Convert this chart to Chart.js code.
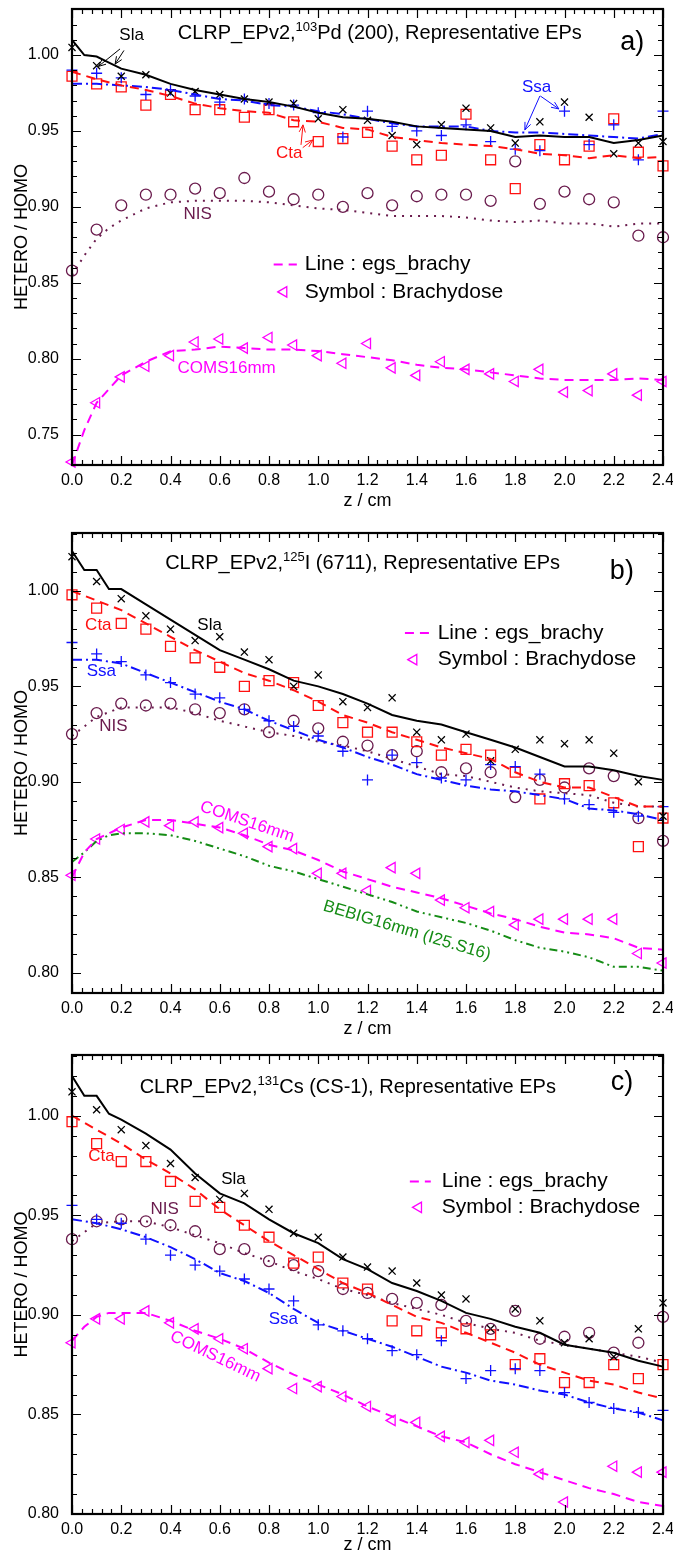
<!DOCTYPE html>
<html>
<head>
<meta charset="utf-8">
<script src="https://cdn.jsdelivr.net/npm/chart.js@4.4.1/dist/chart.umd.min.js"></script>
<style>
  body { margin: 0; background: #fff; }
  #wrap { position: relative; width: 673px; height: 1556px; }
  canvas { position: absolute; left: 0; }
</style>
</head>
<body>
<div id="wrap">
  <canvas id="chartA" width="673" height="512" style="top:0px"></canvas>
  <canvas id="chartB" width="673" height="528" style="top:512px"></canvas>
  <canvas id="chartC" width="673" height="516" style="top:1040px"></canvas>
</div>
<script>
// depth along the eye axis (cm)
const zPts = [0.0, 0.1, 0.2, 0.3, 0.4, 0.5, 0.6, 0.7, 0.8, 0.9, 1.0, 1.1, 1.2, 1.3, 1.4, 1.5, 1.6, 1.7, 1.8, 1.9, 2.0, 2.1, 2.2, 2.3, 2.4];
const zFine = [0.0, 0.05, 0.1, 0.15, 0.2, 0.3, 0.4, 0.5, 0.6, 0.7, 0.8, 0.9, 1.0, 1.1, 1.2, 1.3, 1.4, 1.5, 1.6, 1.7, 1.8, 1.9, 2.0, 2.1, 2.2, 2.3, 2.4];
const xTicks = [0.0, 0.2, 0.4, 0.6, 0.8, 1.0, 1.2, 1.4, 1.6, 1.8, 2.0, 2.2, 2.4];
const yTicksA = [0.75, 0.80, 0.85, 0.90, 0.95, 1.00];
const yTicksB = [0.80, 0.85, 0.90, 0.95, 1.00];
const yTicksC = [0.80, 0.85, 0.90, 0.95, 1.00];

// a) 103Pd (200)
const aSlaLine = [1.010, 1.000, 0.999, 0.995, 0.991, 0.987, 0.981, 0.977, 0.974, 0.971, 0.969, 0.966, 0.962, 0.959, 0.958, 0.956, 0.953, 0.952, 0.951, 0.950, 0.946, 0.947, 0.946, 0.946, 0.942, 0.944, 0.947];
const aSlaPts = [1.005, 0.993, 0.986, 0.987, 0.975, 0.976, 0.974, 0.971, 0.969, 0.968, 0.958, 0.964, 0.957, 0.947, 0.941, 0.954, 0.965, 0.952, 0.942, 0.956, 0.969, 0.959, 0.935, 0.942, 0.943];
const aCtaLine = [0.989, 0.984, 0.980, 0.977, 0.973, 0.968, 0.965, 0.963, 0.962, 0.957, 0.956, 0.952, 0.951, 0.946, 0.944, 0.942, 0.941, 0.940, 0.938, 0.935, 0.934, 0.932, 0.934, 0.932, 0.933];
const aCtaPts = [0.986, 0.981, 0.979, 0.967, 0.974, 0.964, 0.964, 0.959, 0.964, 0.956, 0.943, 0.945, 0.949, 0.940, 0.931, 0.934, 0.961, 0.931, 0.912, 0.941, 0.931, 0.940, 0.958, 0.936, 0.927];
const aSsaLine = [0.981, 0.981, 0.980, 0.979, 0.977, 0.974, 0.971, 0.970, 0.967, 0.966, 0.963, 0.961, 0.958, 0.955, 0.953, 0.953, 0.953, 0.950, 0.949, 0.949, 0.948, 0.947, 0.946, 0.945, 0.948];
const aSsaPts = [0.990, 0.988, 0.985, 0.974, 0.977, 0.973, 0.969, 0.971, 0.968, 0.967, 0.962, 0.946, 0.963, 0.953, 0.950, 0.947, 0.954, 0.943, 0.938, 0.937, 0.963, 0.941, 0.954, 0.931, 0.963];
const aNisLine = [0.855, 0.868, 0.879, 0.886, 0.891, 0.899, 0.903, 0.904, 0.904, 0.904, 0.903, 0.901, 0.899, 0.898, 0.896, 0.894, 0.894, 0.894, 0.893, 0.891, 0.890, 0.891, 0.889, 0.889, 0.887, 0.889, 0.889];
const aNisPts = [0.858, 0.885, 0.901, 0.908, 0.908, 0.912, 0.909, 0.919, 0.910, 0.905, 0.908, 0.900, 0.909, 0.901, 0.907, 0.908, 0.908, 0.904, 0.930, 0.902, 0.910, 0.905, 0.903, 0.881, 0.880];
const aComsLine = [0.730, 0.753, 0.771, 0.780, 0.789, 0.798, 0.805, 0.806, 0.808, 0.807, 0.806, 0.806, 0.805, 0.803, 0.801, 0.799, 0.796, 0.794, 0.793, 0.791, 0.789, 0.787, 0.786, 0.786, 0.786, 0.787, 0.786];
const aComsPts = [0.732, 0.771, 0.788, 0.795, 0.802, 0.811, 0.813, 0.807, 0.814, 0.809, 0.802, 0.797, 0.810, 0.794, 0.789, 0.798, 0.793, 0.790, 0.785, 0.793, 0.778, 0.779, 0.790, 0.776, 0.785];

// b) 125I (6711)
const bSlaLine = [1.021, 1.011, 1.011, 1.001, 1.001, 0.993, 0.985, 0.977, 0.969, 0.964, 0.959, 0.953, 0.950, 0.946, 0.941, 0.935, 0.932, 0.930, 0.926, 0.922, 0.918, 0.913, 0.908, 0.908, 0.906, 0.903, 0.901];
const bSlaPts = [1.018, 1.005, 0.996, 0.987, 0.980, 0.974, 0.976, 0.968, 0.964, 0.950, 0.956, 0.942, 0.939, 0.944, 0.926, 0.922, 0.925, 0.911, 0.917, 0.922, 0.920, 0.922, 0.915, 0.900, 0.882];
const bCtaLine = [1.000, 0.995, 0.990, 0.983, 0.976, 0.969, 0.963, 0.957, 0.953, 0.948, 0.942, 0.935, 0.931, 0.926, 0.922, 0.918, 0.915, 0.912, 0.905, 0.900, 0.897, 0.897, 0.892, 0.887, 0.887];
const bCtaPts = [0.998, 0.991, 0.983, 0.980, 0.971, 0.965, 0.960, 0.950, 0.953, 0.952, 0.940, 0.931, 0.926, 0.926, 0.921, 0.914, 0.917, 0.914, 0.905, 0.891, 0.899, 0.898, 0.889, 0.866, 0.881];
const bSsaLine = [0.964, 0.964, 0.962, 0.957, 0.952, 0.947, 0.942, 0.938, 0.932, 0.927, 0.922, 0.918, 0.913, 0.909, 0.904, 0.901, 0.898, 0.896, 0.895, 0.893, 0.891, 0.886, 0.885, 0.883, 0.880];
const bSsaPts = [0.973, 0.967, 0.963, 0.956, 0.952, 0.946, 0.944, 0.938, 0.932, 0.929, 0.924, 0.916, 0.901, 0.914, 0.910, 0.902, 0.901, 0.909, 0.908, 0.904, 0.891, 0.888, 0.884, 0.882, 0.887];
const bNisLine = [0.924, 0.934, 0.939, 0.939, 0.939, 0.936, 0.932, 0.929, 0.926, 0.924, 0.921, 0.919, 0.916, 0.912, 0.908, 0.904, 0.903, 0.900, 0.897, 0.895, 0.894, 0.893, 0.889, 0.887, 0.887];
const bNisPts = [0.925, 0.936, 0.941, 0.940, 0.941, 0.938, 0.936, 0.938, 0.926, 0.932, 0.928, 0.921, 0.919, 0.914, 0.916, 0.905, 0.907, 0.905, 0.892, 0.901, 0.897, 0.907, 0.903, 0.881, 0.869];
const bComsLine = [0.850, 0.863, 0.870, 0.873, 0.876, 0.880, 0.880, 0.878, 0.876, 0.872, 0.867, 0.864, 0.859, 0.853, 0.849, 0.845, 0.842, 0.839, 0.835, 0.831, 0.828, 0.824, 0.821, 0.820, 0.818, 0.813, 0.812];
const bComsPts = [0.851, 0.870, 0.875, 0.879, 0.877, 0.879, 0.876, 0.873, 0.866, 0.865, 0.852, 0.852, 0.843, 0.855, 0.852, 0.838, 0.834, 0.832, 0.825, 0.828, 0.828, 0.828, 0.828, 0.810, 0.805];
const bBebigLine = [0.858, 0.863, 0.869, 0.872, 0.873, 0.873, 0.872, 0.869, 0.865, 0.861, 0.856, 0.853, 0.849, 0.845, 0.841, 0.837, 0.832, 0.829, 0.826, 0.822, 0.817, 0.813, 0.811, 0.808, 0.803, 0.803, 0.801];

// c) 131Cs (CS-1)
const cSlaLine = [1.020, 1.010, 1.010, 1.001, 0.998, 0.991, 0.983, 0.971, 0.961, 0.956, 0.948, 0.941, 0.936, 0.928, 0.923, 0.916, 0.912, 0.907, 0.901, 0.898, 0.894, 0.891, 0.885, 0.883, 0.881, 0.877, 0.874];
const cSlaPts = [1.012, 1.003, 0.993, 0.985, 0.976, 0.969, 0.958, 0.961, 0.953, 0.941, 0.939, 0.929, 0.924, 0.922, 0.916, 0.910, 0.908, 0.893, 0.903, 0.897, 0.886, 0.888, 0.879, 0.893, 0.906];
const cCtaLine = [1.000, 0.993, 0.986, 0.978, 0.971, 0.963, 0.953, 0.945, 0.937, 0.930, 0.923, 0.916, 0.911, 0.905, 0.899, 0.896, 0.891, 0.886, 0.881, 0.875, 0.871, 0.867, 0.865, 0.861, 0.858];
const cCtaPts = [0.997, 0.986, 0.977, 0.977, 0.967, 0.957, 0.954, 0.945, 0.939, 0.926, 0.929, 0.916, 0.913, 0.897, 0.892, 0.891, 0.893, 0.890, 0.875, 0.878, 0.866, 0.866, 0.875, 0.868, 0.875];
const cSsaLine = [0.948, 0.946, 0.943, 0.939, 0.934, 0.928, 0.921, 0.917, 0.911, 0.903, 0.896, 0.892, 0.888, 0.884, 0.879, 0.874, 0.871, 0.867, 0.865, 0.862, 0.860, 0.856, 0.853, 0.851, 0.847];
const cSsaPts = [0.955, 0.948, 0.946, 0.938, 0.930, 0.925, 0.922, 0.918, 0.913, 0.907, 0.895, 0.892, 0.888, 0.882, 0.880, 0.887, 0.868, 0.872, 0.873, 0.872, 0.861, 0.856, 0.853, 0.851, 0.852];
const cNisLine = [0.937, 0.946, 0.947, 0.947, 0.944, 0.940, 0.936, 0.931, 0.927, 0.922, 0.918, 0.913, 0.910, 0.906, 0.903, 0.900, 0.896, 0.893, 0.891, 0.887, 0.885, 0.883, 0.881, 0.879, 0.876];
const cNisPts = [0.938, 0.947, 0.948, 0.947, 0.945, 0.942, 0.933, 0.933, 0.927, 0.925, 0.922, 0.913, 0.911, 0.908, 0.906, 0.905, 0.897, 0.893, 0.902, 0.888, 0.889, 0.891, 0.881, 0.886, 0.899];
const cComsLine = [0.887, 0.894, 0.899, 0.901, 0.901, 0.901, 0.897, 0.892, 0.888, 0.883, 0.876, 0.870, 0.865, 0.860, 0.854, 0.849, 0.844, 0.839, 0.836, 0.830, 0.825, 0.821, 0.817, 0.813, 0.810, 0.806, 0.804];
const cComsPts = [0.886, 0.898, 0.898, 0.902, 0.896, 0.893, 0.888, 0.883, 0.873, 0.863, 0.864, 0.859, 0.854, 0.847, 0.846, 0.839, 0.836, 0.837, 0.831, 0.820, 0.806, null, 0.824, 0.821, 0.821];

const FONT = '"Liberation Sans", Arial, Helvetica, sans-serif';
const BLACK = '#000000', RED = '#ff1010', BLUE = '#1010ff', PURPLE = '#6a1b4d', MAGENTA = '#ff00ff', GREEN = '#158c15';

function xy(xs, ys) {
    return xs.map((x, i) => ({ x: x, y: ys[i] }));
}

function curve(xs, ys, color, dash) {
    return {
        data: xy(xs, ys), showLine: true, borderColor: color, borderWidth: 2,
        borderDash: dash, pointRadius: 0, pointHoverRadius: 0, clip: false
    };
}

function marks(ys, color, style, r, rot) {
    return {
        data: xy(zPts, ys), showLine: false, pointStyle: style, pointRadius: r, pointHoverRadius: r,
        pointRotation: rot || 0, borderColor: color, pointBorderColor: color,
        backgroundColor: 'rgba(0,0,0,0)', pointBackgroundColor: 'rgba(0,0,0,0)',
        pointBorderWidth: 1.3, clip: false
    };
}

const DASH = [9, 6], DASHDOT = [10, 4, 2, 4], DOTS = [2, 6], DASHDOTDOT = [8, 4, 2, 4, 2, 4];

// frame, inward ticks, titles, curve labels, arrows and the key
const decorPlugin = {
    id: 'decor',
    afterDraw(chart, args, p) {
        const ctx = chart.ctx, a = chart.chartArea, xs = chart.scales.x, ys = chart.scales.y;
        const X = z => xs.getPixelForValue(z), Y = v => ys.getPixelForValue(v);
        ctx.save();

        ctx.strokeStyle = '#000';
        ctx.lineWidth = 1.2;
        ctx.beginPath();
        for (let i = 0; i <= 60; i++) {
            const px = Math.round(X(i * 0.04)) + 0.5, len = i % 5 ? 5 : 9;
            ctx.moveTo(px, a.bottom); ctx.lineTo(px, a.bottom - len);
            ctx.moveTo(px, a.top); ctx.lineTo(px, a.top + len);
        }
        for (let k = Math.ceil(ys.min * 100 - 1e-6); k <= Math.floor(ys.max * 100 + 1e-6); k++) {
            const py = Math.round(Y(k / 100)) + 0.5, len = k % 5 ? 5 : 9;
            ctx.moveTo(a.left, py); ctx.lineTo(a.left + len, py);
            ctx.moveTo(a.right, py); ctx.lineTo(a.right - len, py);
        }
        ctx.stroke();
        ctx.lineWidth = 2.2;
        ctx.strokeRect(a.left, a.top, a.right - a.left, a.bottom - a.top);

        // title with superscript mass number
        const big = '20px ' + FONT, small = '13px ' + FONT;
        ctx.fillStyle = '#000';
        ctx.textAlign = 'left';
        ctx.textBaseline = 'alphabetic';
        ctx.font = big;
        const w1 = ctx.measureText(p.title[0]).width, w3 = ctx.measureText(p.title[2]).width;
        ctx.font = small;
        const w2 = ctx.measureText(p.title[1]).width;
        let tx = X(p.titleAt[0]) - (w1 + w2 + w3) / 2;
        const ty = Y(p.titleAt[1]) + 7;
        ctx.font = big; ctx.fillText(p.title[0], tx, ty); tx += w1;
        ctx.font = small; ctx.fillText(p.title[1], tx, ty - 8); tx += w2;
        ctx.font = big; ctx.fillText(p.title[2], tx, ty);

        ctx.textAlign = 'center';
        ctx.textBaseline = 'middle';
        ctx.font = '27px ' + FONT;
        ctx.fillText(p.tag, X(p.tagAt[0]), Y(p.tagAt[1]));

        p.labels.forEach(l => {
            ctx.save();
            ctx.translate(X(l.at[0]), Y(l.at[1]));
            ctx.rotate((l.rot || 0) * Math.PI / 180);
            ctx.font = '17px ' + FONT;
            ctx.fillStyle = l.c;
            ctx.fillText(l.t, 0, 0);
            ctx.restore();
        });

        (p.arrows || []).forEach(r => {
            const x1 = X(r[0]), y1 = Y(r[1]), x2 = X(r[2]), y2 = Y(r[3]);
            const ang = Math.atan2(y2 - y1, x2 - x1);
            ctx.strokeStyle = r[4];
            ctx.lineWidth = 1;
            ctx.beginPath();
            ctx.moveTo(x1, y1); ctx.lineTo(x2, y2);
            [0.4, -0.4].forEach(d => {
                ctx.moveTo(x2, y2);
                ctx.lineTo(x2 - 8 * Math.cos(ang + d), y2 - 8 * Math.sin(ang + d));
            });
            ctx.stroke();
        });

        const L = p.legend;
        ctx.strokeStyle = MAGENTA;
        ctx.lineWidth = 2;
        ctx.setLineDash([9, 6]);
        ctx.beginPath();
        ctx.moveTo(X(L.line[0]), Y(L.line[2]));
        ctx.lineTo(X(L.line[1]), Y(L.line[2]));
        ctx.stroke();
        ctx.setLineDash([]);
        const tpx = X(L.tri[0]), tpy = Y(L.tri[1]);
        ctx.lineWidth = 1.3;
        ctx.beginPath();
        ctx.moveTo(tpx - 6, tpy);
        ctx.lineTo(tpx + 3, tpy - 5.2);
        ctx.lineTo(tpx + 3, tpy + 5.2);
        ctx.closePath();
        ctx.stroke();
        ctx.font = '21px ' + FONT;
        ctx.fillStyle = '#000';
        ctx.textAlign = 'left';
        ctx.fillText('Line : egs_brachy', X(L.text), Y(L.line[2]));
        ctx.fillText('Symbol : Brachydose', X(L.text), Y(L.tri[1]));
        ctx.restore();
    }
};

function makeChart(id, panel, yMin, yMax, yTicks, padTop, xH, datasets) {
    const ctx = document.getElementById(id).getContext('2d');
    return new Chart(ctx, {
        type: 'scatter',
        data: { datasets: datasets },
        options: {
            responsive: false,
            animation: false,
            devicePixelRatio: 1,
            events: [],
            layout: { padding: { top: padTop, right: 10, bottom: 0, left: 0 } },
            plugins: { legend: { display: false }, tooltip: { enabled: false }, decor: panel },
            scales: {
                x: {
                    type: 'linear', min: 0, max: 2.4,
                    grid: { display: false }, border: { display: false },
                    ticks: {
                        padding: -2, color: '#000', font: { family: FONT, size: 16 },
                        maxRotation: 0, autoSkip: false, callback: v => v.toFixed(1)
                    },
                    title: {
                        display: true, text: 'z / cm', color: '#000',
                        font: { family: FONT, size: 18 },
                        padding: { top: 0, bottom: 0 }
                    },
                    afterBuildTicks: s => { s.ticks = xTicks.map(v => ({ value: v })); },
                    afterFit: s => { s.height = xH; s.paddingLeft = 0; s.paddingRight = 0; }
                },
                y: {
                    type: 'linear', min: yMin, max: yMax,
                    grid: { display: false }, border: { display: false },
                    ticks: {
                        padding: 5, color: '#000', font: { family: FONT, size: 16 },
                        callback: v => v.toFixed(2)
                    },
                    title: {
                        display: true, text: 'HETERO / HOMO', color: '#000',
                        font: { family: FONT, size: 18 }, padding: { top: 11, bottom: 0 }
                    },
                    afterBuildTicks: s => { s.ticks = yTicks.map(v => ({ value: v })); },
                    afterFit: s => { s.width = 72; s.paddingTop = 0; s.paddingBottom = 0; }
                }
            }
        },
        plugins: [decorPlugin]
    });
}

document.addEventListener("DOMContentLoaded", () => {
    makeChart('chartA', {
        title: ['CLRP_EPv2,', '103', 'Pd (200), Representative EPs'], titleAt: [1.25, 1.015],
        tag: 'a)', tagAt: [2.275, 1.008],
        labels: [
            { t: 'Sla', c: BLACK, at: [0.242, 1.013] },
            { t: 'Ssa', c: BLUE, at: [1.887, 0.979] },
            { t: 'Cta', c: RED, at: [0.882, 0.935] },
            { t: 'NIS', c: PURPLE, at: [0.51, 0.895] },
            { t: 'COMS16mm', c: MAGENTA, at: [0.628, 0.794] }
        ],
        arrows: [
            [0.195, 1.004, 0.107, 0.9925, BLACK],
            [0.211, 1.003, 0.175, 0.994, BLACK],
            [1.902, 0.973, 1.977, 0.9645, BLUE],
            [1.900, 0.973, 1.839, 0.9507, BLUE],
            [0.930, 0.9408, 0.938, 0.954, RED],
            [0.937, 0.939, 0.978, 0.944, RED]
        ],
        legend: { line: [0.819, 0.913, 0.862], text: 0.945, tri: [0.86, 0.844] }
    }, 0.730, 1.0303, yTicksA, 9, 47, [
        curve(zFine, aSlaLine, BLACK, []),
        curve(zPts, aCtaLine, RED, DASH),
        curve(zPts, aSsaLine, BLUE, DASHDOT),
        curve(zFine, aNisLine, PURPLE, DOTS),
        curve(zFine, aComsLine, MAGENTA, DASH),
        marks(aSlaPts, BLACK, 'crossRot', 5),
        marks(aSsaPts, BLUE, 'cross', 5.5),
        marks(aCtaPts, RED, 'rect', 7),
        marks(aNisPts, PURPLE, 'circle', 5.5),
        marks(aComsPts, MAGENTA, 'triangle', 6, -90)
    ]);

    makeChart('chartB', {
        title: ['CLRP_EPv2,', '125', 'I (6711), Representative EPs'], titleAt: [1.18, 1.015],
        tag: 'b)', tagAt: [2.233, 1.010],
        labels: [
            { t: 'Sla', c: BLACK, at: [0.559, 0.982] },
            { t: 'Cta', c: RED, at: [0.107, 0.982] },
            { t: 'Ssa', c: BLUE, at: [0.119, 0.958] },
            { t: 'NIS', c: PURPLE, at: [0.168, 0.929] },
            { t: 'COMS16mm', c: MAGENTA, at: [0.711, 0.879], rot: 18.6 },
            { t: 'BEBIG16mm (I25.S16)', c: GREEN, at: [1.36, 0.822], rot: 16.6 }
        ],
        legend: { line: [1.352, 1.45, 0.978], text: 1.485, tri: [1.388, 0.964] }
    }, 0.7893, 1.0304, yTicksB, 21, 47, [
        curve(zFine, bSlaLine, BLACK, []),
        curve(zPts, bCtaLine, RED, DASH),
        curve(zPts, bSsaLine, BLUE, DASHDOT),
        curve(zPts, bNisLine, PURPLE, DOTS),
        curve(zFine, bComsLine, MAGENTA, DASH),
        curve(zFine, bBebigLine, GREEN, DASHDOTDOT),
        marks(bSlaPts, BLACK, 'crossRot', 5),
        marks(bSsaPts, BLUE, 'cross', 5.5),
        marks(bCtaPts, RED, 'rect', 7),
        marks(bNisPts, PURPLE, 'circle', 5.5),
        marks(bComsPts, MAGENTA, 'triangle', 6, -90)
    ]);

    makeChart('chartC', {
        title: ['CLRP_EPv2,', '131', 'Cs (CS-1), Representative EPs'], titleAt: [1.12, 1.015],
        tag: 'c)', tagAt: [2.233, 1.0165],
        labels: [
            { t: 'Sla', c: BLACK, at: [0.656, 0.968] },
            { t: 'Cta', c: RED, at: [0.12, 0.9795] },
            { t: 'NIS', c: PURPLE, at: [0.376, 0.953] },
            { t: 'Ssa', c: BLUE, at: [0.858, 0.898] },
            { t: 'COMS16mm', c: MAGENTA, at: [0.582, 0.879], rot: 25.5 }
        ],
        legend: { line: [1.372, 1.457, 0.967], text: 1.502, tri: [1.407, 0.954] }
    }, 0.80, 1.0305, yTicksC, 15, 42, [
        curve(zFine, cSlaLine, BLACK, []),
        curve(zPts, cCtaLine, RED, DASH),
        curve(zPts, cSsaLine, BLUE, DASHDOT),
        curve(zPts, cNisLine, PURPLE, DOTS),
        curve(zFine, cComsLine, MAGENTA, DASH),
        marks(cSlaPts, BLACK, 'crossRot', 5),
        marks(cSsaPts, BLUE, 'cross', 5.5),
        marks(cCtaPts, RED, 'rect', 7),
        marks(cNisPts, PURPLE, 'circle', 5.5),
        marks(cComsPts, MAGENTA, 'triangle', 6, -90)
    ]);
});
</script>
</body>
</html>
